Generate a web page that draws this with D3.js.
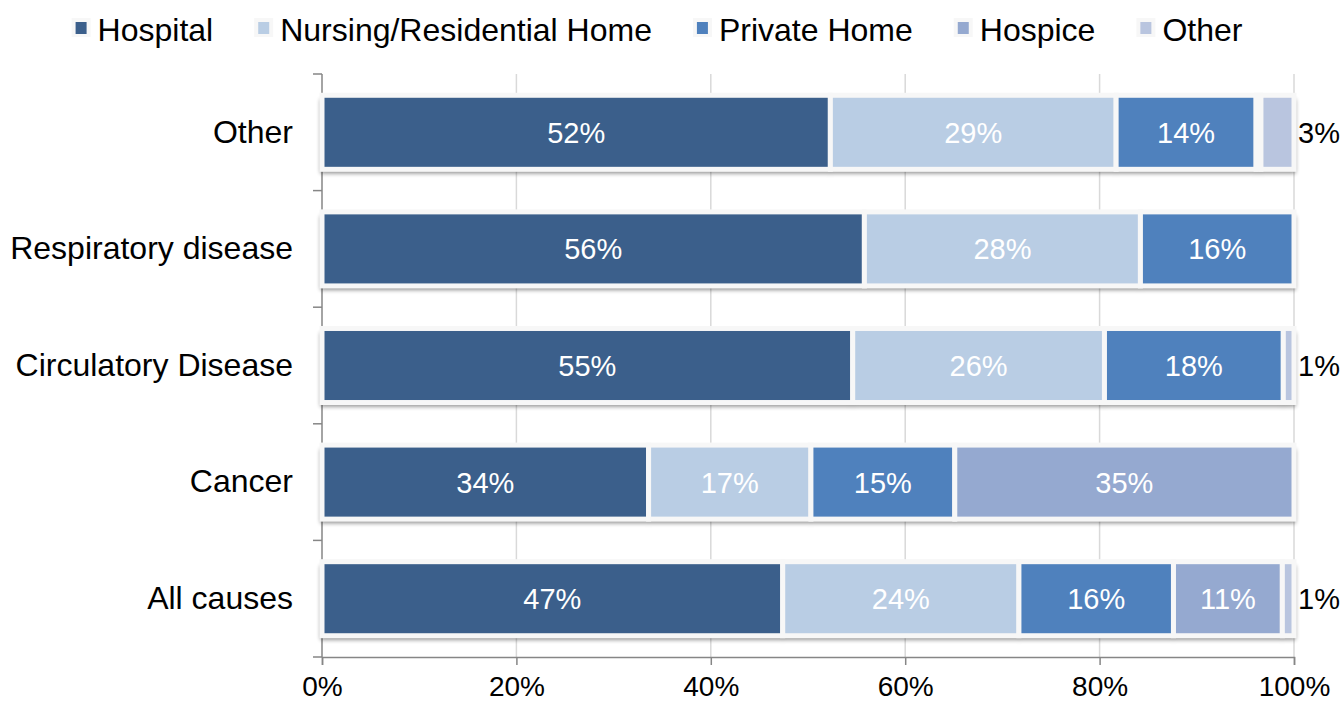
<!DOCTYPE html>
<html>
<head>
<meta charset="utf-8">
<script src="https://cdn.jsdelivr.net/npm/d3@7"></script>
<style>
  html, body { margin: 0; padding: 0; background: #fff; }
  svg { display: block; font-family: Arial, "Liberation Sans", sans-serif; }
</style>
</head>
<body>
<svg id="chart" width="1343" height="702"></svg>
<script>
// Place of death by underlying cause (percent of deaths)
const categories = ["Other", "Respiratory disease", "Circulatory Disease", "Cancer", "All causes"];
const seriesNames = ["Hospital", "Nursing/Residential Home", "Private Home", "Hospice", "Other"];
const hospital    = [52.3, 55.8, 54.6, 33.6, 47.4];
const nursingHome = [29.4, 28.4, 25.9, 16.7, 24.3];
const privateHome = [14.4, 15.8, 18.4, 14.8, 15.9];
const hospice     = [0.5, 0, 0, 34.9, 11.2];
const otherPlace  = [3.4, 0, 1.1, 0, 1.2];
const xTickValues = [0, 20, 40, 60, 80, 100];

const seriesValues = [hospital, nursingHome, privateHome, hospice, otherPlace];
const colors = ["#3b5f8b", "#b9cde4", "#4f81bd", "#95a9d0", "#b9c5df"];

const svg = d3.select("#chart");
const margin = { left: 322, right: 49, top: 74, bottom: 45 };
const W = 1343, H = 702;

const x = d3.scaleLinear().domain([0, 100]).range([margin.left, W - margin.right]);
const y = d3.scaleBand().domain(categories).range([margin.top, H - margin.bottom]).paddingInner(0.365).paddingOuter(0.1825);

// Rows of stacked segments
const rows = categories.map((c, i) => {
  const obj = { category: c };
  seriesNames.forEach((s, j) => obj[s] = seriesValues[j][i]);
  return obj;
});
const stacked = d3.stack().keys(seriesNames)(rows);

const defs = svg.append("defs");
const f = defs.append("filter").attr("id", "shadow").attr("x", "-5%").attr("y", "-30%").attr("width", "110%").attr("height", "160%");
f.append("feGaussianBlur").attr("in", "SourceAlpha").attr("stdDeviation", 2.2);

// Gridlines
svg.append("g").selectAll("line").data(xTickValues.slice(1)).join("line")
  .attr("x1", d => x(d)).attr("x2", d => x(d))
  .attr("y1", margin.top).attr("y2", H - margin.bottom)
  .attr("stroke", "#d9d9d9").attr("stroke-width", 1.5);

// Bottom axis
const xAxis = svg.append("g").attr("transform", `translate(0,${H - margin.bottom})`)
  .call(d3.axisBottom(x).tickValues(xTickValues).tickSize(8).tickPadding(11).tickFormat(d => d + "%"));
xAxis.select(".domain").attr("stroke", "#868686").attr("stroke-width", 1.5);
xAxis.selectAll(".tick line").attr("stroke", "#868686").attr("stroke-width", 1.5);
xAxis.selectAll(".tick text").attr("font-size", 28).attr("fill", "#000").attr("font-family", "Arial, 'Liberation Sans', sans-serif");

// Left axis: line, boundary ticks, category labels
const yAxis = svg.append("g").attr("transform", `translate(${margin.left},0)`)
  .call(d3.axisLeft(y).tickSize(0).tickPadding(29));
yAxis.select(".domain").remove();
yAxis.selectAll(".tick text").attr("font-size", 32).attr("fill", "#000").attr("font-family", "Arial, 'Liberation Sans', sans-serif");
svg.append("line").attr("x1", margin.left).attr("x2", margin.left)
  .attr("y1", margin.top).attr("y2", H - margin.bottom)
  .attr("stroke", "#868686").attr("stroke-width", 1.5);
const bounds = categories.map((c, i) => margin.top + i * y.step()).concat([H - margin.bottom]);
svg.append("g").selectAll("line").data(bounds).join("line")
  .attr("x1", margin.left - 9).attr("x2", margin.left)
  .attr("y1", d => d).attr("y2", d => d)
  .attr("stroke", "#868686").attr("stroke-width", 1.5);

// Shadows under each segment
const shadowLayer = svg.append("g").attr("filter", "url(#shadow)").attr("opacity", 0.45);
stacked.forEach(layer => {
  shadowLayer.selectAll(null).data(layer.filter(d => d[1] > d[0])).join("rect")
    .attr("x", d => x(d[0]) - 1.5)
    .attr("y", d => y(d.data.category) + 4)
    .attr("width", d => x(d[1]) - x(d[0]) + 3)
    .attr("height", y.bandwidth())
    .attr("fill", "#000");
});

// Segments
const barLayer = svg.append("g");
stacked.forEach((layer, j) => {
  barLayer.selectAll(null).data(layer.filter(d => d[1] > d[0])).join("rect")
    .attr("x", d => x(d[0]))
    .attr("y", d => y(d.data.category))
    .attr("width", d => x(d[1]) - x(d[0]))
    .attr("height", y.bandwidth())
    .attr("fill", colors[j])
    .attr("stroke", "#f7f7f7")
    .attr("stroke-width", 5);
});

// Value labels
const fmt = v => Math.round(v) + "%";
const labelLayer = svg.append("g").attr("font-size", 29);
stacked.forEach((layer, j) => {
  layer.forEach(d => {
    const v = d[1] - d[0];
    if (v < 0.95) return;
    const cy = y(d.data.category) + y.bandwidth() / 2;
    if (v >= 5) {
      labelLayer.append("text")
        .attr("x", (x(d[0]) + x(d[1])) / 2).attr("y", cy)
        .attr("dy", "0.36em").attr("text-anchor", "middle")
        .attr("fill", "#fff").text(fmt(v));
    } else {
      labelLayer.append("text")
        .attr("x", x(d[1]) + 4).attr("y", cy)
        .attr("dy", "0.36em").attr("text-anchor", "start")
        .attr("fill", "#000").text(fmt(v));
    }
  });
});

// Legend
const legend = svg.append("g").attr("font-size", 32);
const items = legend.selectAll("g").data(seriesNames).join("g");
items.append("rect").attr("x", -4).attr("y", -13).attr("width", 19).attr("height", 19).attr("fill", "#f7f7f7");
items.append("rect").attr("x", 0).attr("y", -9).attr("width", 11).attr("height", 12).attr("fill", (d, i) => colors[i]);
items.append("text").attr("x", 22).attr("y", 10).attr("fill", "#000").text(d => d);
const widths = [];
items.each(function() { widths.push(22 + d3.select(this).select("text").node().getComputedTextLength()); });
const gap = 45;
const total = d3.sum(widths) + gap * (widths.length - 1);
const start = 659 - total / 2;
items.attr("transform", (d, i) => {
  const tx = start + d3.sum(widths.slice(0, i)) + gap * i;
  return `translate(${tx},31)`;
});
</script>
</body>
</html>
